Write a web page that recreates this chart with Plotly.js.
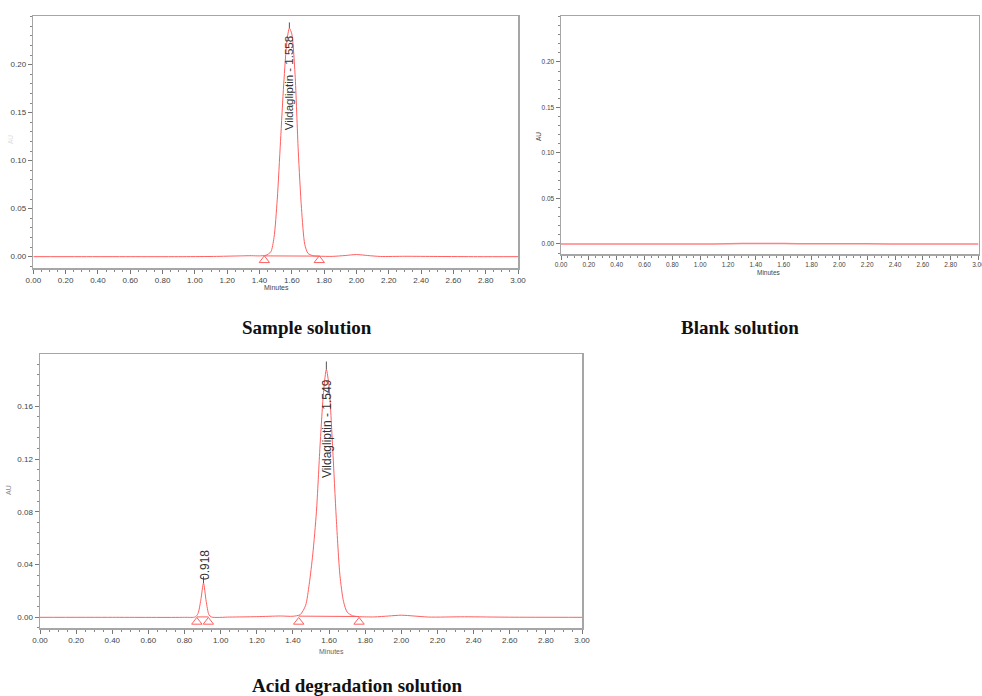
<!DOCTYPE html>
<html>
<head>
<meta charset="utf-8">
<script src="https://cdn.plot.ly/plotly-3.0.1.min.js"></script>
<style>html,body{margin:0;padding:0;background:#fff;}#chart{width:982px;height:696px;}</style>
</head>
<body>
<div id="chart"></div>
<script>
// ---- Sample solution chromatogram ----
var sampleTime = [0.00, 0.30, 0.60, 0.90, 1.10, 1.25, 1.35, 1.40, 1.44, 1.47, 1.49, 1.51, 1.53, 1.55, 1.57, 1.585, 1.60, 1.62, 1.64, 1.66, 1.68, 1.70, 1.73, 1.77, 1.85, 1.93, 2.00, 2.07, 2.15, 2.30, 2.50, 2.75, 3.00];
var sampleAU   = [0.0000, 0.0000, 0.0000, 0.0000, 0.0002, 0.0007, 0.0010, 0.0008, 0.0015, 0.0050, 0.0200, 0.0600, 0.1200, 0.1800, 0.2250, 0.2380, 0.2320, 0.1900, 0.1100, 0.0500, 0.0130, 0.0035, 0.0010, 0.0005, 0.0003, 0.0012, 0.0022, 0.0012, 0.0002, 0.0004, 0.0002, 0.0000, 0.0000];
var sampleMarks = [1.43, 1.77];
var sampleApex = [1.585];
var sampleApexAU = [0.238, 0.244];
var sampleLabel = "Vildagliptin - 1.558";

// ---- Blank solution chromatogram ----
var blankTime = [0.00, 0.50, 1.00, 1.20, 1.40, 1.60, 1.80, 2.00, 2.20, 2.50, 3.00];
var blankAU   = [0.0000, 0.0000, 0.0000, 0.0003, 0.0006, 0.0005, 0.0003, 0.0003, 0.0002, 0.0000, 0.0000];

// ---- Acid degradation solution chromatogram ----
var acidTime = [0.00, 0.40, 0.80, 0.86, 0.875, 0.89, 0.905, 0.92, 0.935, 0.95, 1.05, 1.20, 1.33, 1.40, 1.44, 1.47, 1.49, 1.51, 1.53, 1.55, 1.57, 1.585, 1.60, 1.62, 1.64, 1.66, 1.68, 1.70, 1.73, 1.77, 1.85, 1.93, 2.00, 2.07, 2.15, 2.35, 2.60, 3.00];
var acidAU   = [0.0000, 0.0000, 0.0000, 0.0003, 0.0030, 0.0130, 0.0260, 0.0120, 0.0020, 0.0002, 0.0002, 0.0005, 0.0010, 0.0008, 0.0020, 0.0090, 0.0250, 0.0480, 0.0800, 0.1300, 0.1720, 0.1880, 0.1750, 0.1280, 0.0750, 0.0320, 0.0120, 0.0040, 0.0012, 0.0005, 0.0003, 0.0010, 0.0016, 0.0010, 0.0002, 0.0004, 0.0001, 0.0000];
var acidMarks = [0.868, 0.932, 1.432, 1.766];
var acidApex = [1.585, 0.905];
var acidApexTop = [0.194, 0.031];
var acidApexBottom = [0.188, 0.026];
var acidLabels = ["Vildagliptin - 1.549", "0.918"];

var xTickVals = [0, 0.2, 0.4, 0.6, 0.8, 1.0, 1.2, 1.4, 1.6, 1.8, 2.0, 2.2, 2.4, 2.6, 2.8, 3.0];
var yTickTop = [0, 0.05, 0.10, 0.15, 0.20];
var yTickAcid = [0, 0.04, 0.08, 0.12, 0.16];

var captions = ["Sample solution", "Blank solution", "Acid degradation solution"];

// ---- styles ----
var RED = 'rgb(255,95,95)';
var W = 982, H = 696;
function px(x){return x/W;}
function py(y){return 1 - y/H;}

function lineTrace(x, y, xa, ya, width, color) {
  return {x: x, y: y, xaxis: xa, yaxis: ya, type: 'scatter', mode: 'lines',
          line: {color: color || RED, width: width || 1, shape: 'spline', smoothing: 0.7},
          hoverinfo: 'skip', showlegend: false};
}
function markTrace(x, off, xa, ya) {
  return {x: x, y: x.map(function(){return off;}), xaxis: xa, yaxis: ya, type: 'scatter', mode: 'markers',
          marker: {symbol: 'triangle-up-open', size: 9, color: RED, line: {width: 1, color: RED}},
          hoverinfo: 'skip', showlegend: false};
}
function segTrace(x0, x1, y0, y1, xa, ya, color) {
  return {x: [x0, x1], y: [y0, y1], xaxis: xa, yaxis: ya, type: 'scatter', mode: 'lines',
          line: {color: color, width: 1}, hoverinfo: 'skip', showlegend: false};
}

var traces = [];
// panel 1
traces.push(lineTrace(sampleTime, sampleAU, 'x', 'y'));
traces.push(segTrace(sampleMarks[0], sampleMarks[1], 0.0008, 0.0006, 'x', 'y', RED));
traces.push(markTrace(sampleMarks, -0.0038, 'x', 'y'));
traces.push(segTrace(sampleApex[0], sampleApex[0], sampleApexAU[0], sampleApexAU[1], 'x', 'y', '#555'));
// panel 2
traces.push(lineTrace(blankTime, blankAU, 'x2', 'y2', 1.5, 'rgb(255,130,130)'));
// panel 3
traces.push(lineTrace(acidTime, acidAU, 'x3', 'y3'));
traces.push(segTrace(acidMarks[0], acidMarks[1], 0.0003, 0.0003, 'x3', 'y3', RED));
traces.push(segTrace(acidMarks[2], acidMarks[3], 0.0009, 0.0006, 'x3', 'y3', RED));
traces.push(markTrace(acidMarks, -0.0035, 'x3', 'y3'));
for (var i = 0; i < acidApex.length; i++) {
  traces.push(segTrace(acidApex[i], acidApex[i], acidApexBottom[i], acidApexTop[i], 'x3', 'y3', '#555'));
}

function xAxis(domain, anchor, fs) {
  return {domain: domain, anchor: anchor, range: [0, 3], tickvals: xTickVals, tickformat: '.2f',
          showgrid: false, zeroline: false, showline: true, mirror: true, linecolor: '#a6a6a6', linewidth: 1.5,
          ticks: 'outside', ticklen: 4, tickcolor: '#777', tickwidth: 1, ticklabeloverflow: 'allow',
          minor: {dtick: 0.05, ticks: 'outside', ticklen: 2, tickcolor: '#888', showgrid: false},
          tickfont: {family: 'Liberation Sans, Arial', size: fs, color: '#444'}, fixedrange: true};
}
function yAxis(domain, anchor, range, vals, minor, fs) {
  return {domain: domain, anchor: anchor, range: range, tickvals: vals, tickformat: '.2f',
          showgrid: false, zeroline: false, showline: true, mirror: true, linecolor: '#a6a6a6', linewidth: 1.5,
          ticks: 'outside', ticklen: 4, tickcolor: '#777', tickwidth: 1,
          minor: {dtick: minor, ticks: 'outside', ticklen: 2, tickcolor: '#888', showgrid: false},
          tickfont: {family: 'Liberation Sans, Arial', size: fs, color: '#444'}, fixedrange: true};
}

var anns = [];
function txt(text, x, y, xref, yref, opts) {
  var a = {text: text, x: x, y: y, xref: xref, yref: yref, showarrow: false,
           font: {family: 'Liberation Sans, Arial', size: 10, color: '#333'}, xanchor: 'center', yanchor: 'middle'};
  for (var k in opts) a[k] = opts[k];
  anns.push(a);
}
// peak labels
txt(sampleLabel, 1.585, 0.181, 'x', 'y', {textangle: -90, font: {family: 'Liberation Sans, Arial', size: 11.5, color: '#333'}});
txt(acidLabels[0], 1.585, 0.143, 'x3', 'y3', {textangle: -90, font: {family: 'Liberation Sans, Arial', size: 12, color: '#333'}});
txt(acidLabels[1], 0.912, 0.0395, 'x3', 'y3', {textangle: -90, font: {family: 'Liberation Sans, Arial', size: 12, color: '#333'}});
// axis titles
txt('Minutes', px(276), py(287), 'paper', 'paper', {font: {family: 'Liberation Sans, Arial', size: 7, color: '#444'}});
txt('Minutes', px(769), py(273), 'paper', 'paper', {font: {family: 'Liberation Sans, Arial', size: 6.5, color: '#444'}});
txt('Minutes', px(331), py(651), 'paper', 'paper', {font: {family: 'Liberation Sans, Arial', size: 7, color: '#666'}});
txt('AU', px(538), py(137), 'paper', 'paper', {textangle: -90, font: {family: 'Liberation Sans, Arial', size: 6.5, color: '#444'}});
txt('AU', px(10), py(140), 'paper', 'paper', {textangle: -90, font: {family: 'Liberation Sans, Arial', size: 6.5, color: '#ddd'}});
txt('AU', px(9), py(490), 'paper', 'paper', {textangle: -90, font: {family: 'Liberation Sans, Arial', size: 7, color: '#888'}});
// captions
var capPos = [[307, 327], [740, 327], [357, 685]];
for (var c = 0; c < captions.length; c++) {
  txt('<b>' + captions[c] + '</b>', px(capPos[c][0]), py(capPos[c][1]), 'paper', 'paper',
      {font: {family: 'Liberation Serif, Times New Roman, serif', size: 19, color: '#111'}});
}

var layout = {
  width: W, height: H, margin: {l: 0, r: 0, t: 0, b: 0},
  paper_bgcolor: '#fff', plot_bgcolor: '#fff', showlegend: false,
  xaxis: xAxis([px(33.3), px(518)], 'y', 8),
  yaxis: yAxis([py(268), py(16)], 'x', [-0.0118, 0.2507], yTickTop, 0.01, 8),
  xaxis2: xAxis([px(561), px(978.5)], 'y2', 6.5),
  yaxis2: yAxis([py(254), py(16)], 'x2', [-0.011, 0.2505], yTickTop, 0.01, 6.5),
  xaxis3: xAxis([px(40), px(582)], 'y3', 8),
  yaxis3: yAxis([py(628), py(354)], 'x3', [-0.0081, 0.1997], yTickAcid, 0.008, 8),
  annotations: anns
};

Plotly.newPlot('chart', traces, layout, {displayModeBar: false, staticPlot: true});
</script>
</body>
</html>
